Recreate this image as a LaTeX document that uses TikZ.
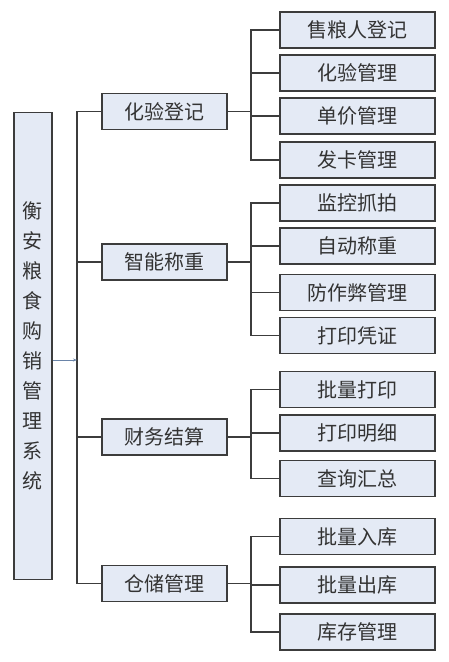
\documentclass[tikz,border=0pt]{standalone}
\usepackage{fontspec}
\setmainfont{Noto Sans CJK SC}
\usetikzlibrary{arrows.meta}
\definecolor{boxfill}{HTML}{E4EAF5}
\definecolor{boxline}{HTML}{3C3C3C}
\definecolor{arrowc}{HTML}{6A84A8}
\tikzset{
  box/.style={draw=boxline, line width=1.4pt, fill=boxfill, inner sep=0pt, text=black!80},
  rootbox/.style={box, minimum width=38pt, minimum height=467pt, align=center, font=\fontsize{20}{30}\selectfont},
  midbox/.style={box, minimum width=125pt, minimum height=36pt, font=\fontsize{20}{24}\selectfont},
  leafbox/.style={box, minimum width=155pt, minimum height=36pt, font=\fontsize{20}{24}\selectfont},
  conn/.style={draw=boxline, line width=1.4pt},
}
\begin{document}
\begin{tikzpicture}[x=1pt,y=-1pt]
\useasboundingbox (0,0) rectangle (449,662);
\node[rootbox] (root) at (33,346) {衡\\安\\粮\\食\\购\\销\\管\\理\\系\\统};
\node[midbox] (m1) at (164.5,111.5) {化验登记};
\node[midbox] (m2) at (164.5,262) {智能称重};
\node[midbox] (m3) at (164.5,437) {财务结算};
\node[midbox] (m4) at (164.5,583.5) {仓储管理};
\node[leafbox] (a1) at (357.5,30) {售粮人登记};
\node[leafbox] (a2) at (357.5,73) {化验管理};
\node[leafbox] (a3) at (357.5,116) {单价管理};
\node[leafbox] (a4) at (357.5,160) {发卡管理};
\node[leafbox] (b1) at (357.5,203) {监控抓拍};
\node[leafbox] (b2) at (357.5,246) {自动称重};
\node[leafbox] (b3) at (357.5,292.5) {防作弊管理};
\node[leafbox] (b4) at (357.5,335.5) {打印凭证};
\node[leafbox] (c1) at (357.5,389.5) {批量打印};
\node[leafbox] (c2) at (357.5,433) {打印明细};
\node[leafbox] (c3) at (357.5,478.5) {查询汇总};
\node[leafbox] (d1) at (357.5,536.5) {批量入库};
\node[leafbox] (d2) at (357.5,585) {批量出库};
\node[leafbox] (d3) at (357.5,632) {库存管理};
\coordinate (tk) at (77,360);
\coordinate (sx) at (251,0);
% main trunk
\draw[conn] (m1.west) -- (m1.west -| tk) -- (m4.west -| tk) -- (m4.west);
\draw[conn] (m2.west -| tk) -- (m2.west);
\draw[conn] (m3.west -| tk) -- (m3.west);
\draw[draw=arrowc, line width=0.6pt, -{Stealth[length=4pt,width=3pt]}] (root.east |- tk) -- (tk);
% group 1
\draw[conn] (m1.east) -- (m1.east -| sx);
\draw[conn] (a1.west) -- (a1.west -| sx) -- (a4.west -| sx) -- (a4.west);
\draw[conn] (a2.west -| sx) -- (a2.west);
\draw[conn] (a3.west -| sx) -- (a3.west);
% group 2
\draw[conn] (m2.east) -- (m2.east -| sx);
\draw[conn] (b1.west) -- (b1.west -| sx) -- (b4.west -| sx) -- (b4.west);
\draw[conn] (b2.west -| sx) -- (b2.west);
\draw[conn] (b3.west -| sx) -- (b3.west);
% group 3
\draw[conn] (m3.east) -- (m3.east -| sx);
\draw[conn] (c1.west) -- (c1.west -| sx) -- (c3.west -| sx) -- (c3.west);
\draw[conn] (c2.west -| sx) -- (c2.west);
% group 4
\draw[conn] (m4.east) -- (m4.east -| sx);
\draw[conn] (d1.west) -- (d1.west -| sx) -- (d3.west -| sx) -- (d3.west);
\draw[conn] (d2.west -| sx) -- (d2.west);
\end{tikzpicture}
\end{document}
